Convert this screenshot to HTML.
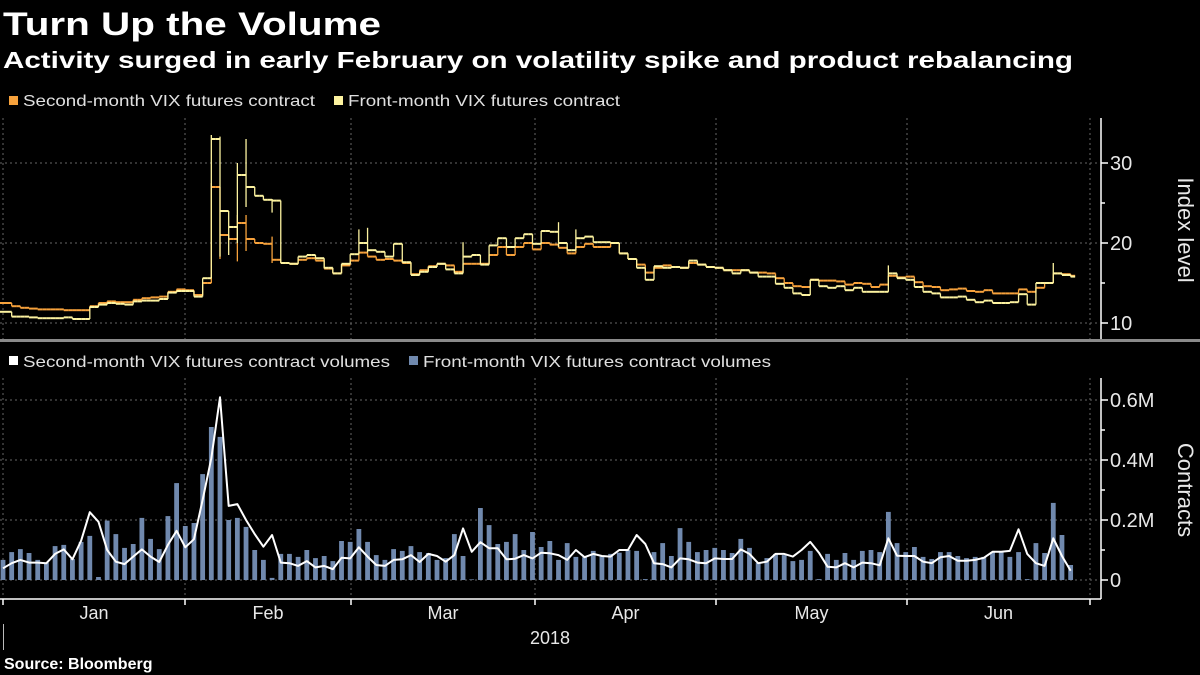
<!DOCTYPE html>
<html><head><meta charset="utf-8"><style>
html,body{margin:0;padding:0;background:#000;}
svg{display:block;font-family:"Liberation Sans",sans-serif;}
</style></head><body>
<svg id="chart" width="1200" height="675" viewBox="0 0 1200 675">
<rect x="0" y="0" width="1200" height="675" fill="#000"/>
<text x="3" y="35" font-size="32" font-weight="bold" fill="#fff" textLength="378" lengthAdjust="spacingAndGlyphs">Turn Up the Volume</text>
<text x="3" y="68" font-size="23" font-weight="bold" fill="#fff" textLength="1070" lengthAdjust="spacingAndGlyphs">Activity surged in early February on volatility spike and product rebalancing</text>
<g>
<rect x="9" y="96" width="9" height="9" fill="#f7a23c"/>
<text x="23" y="106" font-size="16" fill="#e0e0e0" textLength="292" lengthAdjust="spacingAndGlyphs">Second-month VIX futures contract</text>
<rect x="334" y="96" width="9" height="9" fill="#fdf3a0"/>
<text x="348" y="106" font-size="16" fill="#e0e0e0" textLength="272" lengthAdjust="spacingAndGlyphs">Front-month VIX futures contract</text>
</g>
<g>
<rect x="9" y="356" width="9" height="9" fill="#fff"/>
<text x="23" y="367" font-size="16" fill="#e0e0e0" textLength="367" lengthAdjust="spacingAndGlyphs">Second-month VIX futures contract volumes</text>
<rect x="409" y="356" width="9" height="9" fill="#7089ae"/>
<text x="423" y="367" font-size="16" fill="#e0e0e0" textLength="348" lengthAdjust="spacingAndGlyphs">Front-month VIX futures contract volumes</text>
</g>
<rect x="0" y="339" width="1200" height="3" fill="#8a8a8a"/>
<g id="grid"></g>
<g id="upper"></g>
<g id="lower"></g>
<g id="axes"></g>
<text transform="translate(1178,230) rotate(90)" text-anchor="middle" font-size="22" fill="#e8e8e8">Index level</text>
<text transform="translate(1178,490) rotate(90)" text-anchor="middle" font-size="22" fill="#e8e8e8">Contracts</text>
<text x="550" y="644" text-anchor="middle" font-size="18" fill="#e8e8e8">2018</text>
<line x1="3.5" y1="624" x2="3.5" y2="650" stroke="#bbb" stroke-width="1"/>
<text x="4" y="669" font-size="16" font-weight="bold" fill="#fff">Source: Bloomberg</text>
</svg>
<script>
const months = ["Jan","Feb","Mar","Apr","May","Jun"];
const frontClose = [11.4,10.8,10.8,10.7,10.6,10.6,10.6,10.7,10.5,10.5,12.0,12.3,12.5,12.4,12.3,12.7,12.8,12.8,13.0,13.8,14.0,
14.0,13.3,15.6,33.0,24.0,22.0,28.5,27.0,25.9,25.4,25.3,17.5,17.4,18.3,18.5,18.1,16.9,16.2,17.4,
18.6,20.0,19.1,18.9,18.3,19.9,17.6,16.0,16.4,17.0,17.4,16.7,16.2,18.3,18.5,17.3,19.7,20.6,19.5,20.6,21.1,19.9,
21.5,21.4,20.0,19.1,20.6,20.8,20.1,20.1,20.0,18.7,18.0,16.9,15.4,17.1,16.9,17.0,16.9,17.8,17.3,17.0,16.9,16.6,16.2,16.6,16.3,15.8,15.8,14.9,14.4,13.7,13.5,15.4,14.6,14.4,14.6,14.1,14.4,13.9,13.9,13.9,16.2,15.6,15.4,14.5,13.9,13.7,13.2,13.2,13.3,12.9,12.6,12.8,12.5,12.5,12.6,13.6,12.3,15.0,15.0,16.2,16.0,15.8];
const secondClose = [12.5,12.1,11.9,11.8,11.7,11.7,11.7,11.6,11.6,11.6,12.1,12.5,12.7,12.6,12.6,12.9,13.1,13.2,13.3,13.9,14.2,
14.1,13.5,15.0,27.0,21.0,20.5,22.5,20.5,20.0,19.9,17.9,17.5,17.4,17.9,18.1,17.8,16.8,16.2,17.2,
17.8,18.8,18.3,17.9,18.0,17.8,17.5,16.1,16.6,17.1,17.4,17.2,16.4,17.4,17.4,17.4,18.5,19.5,18.5,19.5,20.0,19.2,
20.0,19.8,19.4,18.7,19.5,19.9,19.5,19.5,20.0,18.7,18.0,17.3,16.3,16.9,17.2,17.0,16.9,17.5,17.3,17.0,16.9,16.6,16.6,16.6,16.3,16.3,16.2,15.6,15.0,14.6,14.5,15.4,15.3,15.3,15.2,14.8,15.0,14.9,14.5,14.8,15.9,15.7,15.8,15.1,14.6,14.5,14.1,14.2,14.3,14.0,13.9,14.1,13.7,13.7,13.7,14.2,13.9,14.4,15.0,16.2,16.1,15.9];
const frontSpikeIdx = [24,25,26,27,28,31,41,42,53,64,66,102,121];
const frontSpikeHigh = [33.5,33.3,24,30,33,25.5,21.7,21.9,20.1,22.6,21.7,17.2,17.5];
const frontSpikeLow = [15.6,18.3,18.5,20,24.5,23.8,18.6,18.8,17.8,19.5,19.4,15.2,15.0];
const secondSpikeIdx = [24,25,27,28,31];
const secondSpikeHigh = [27.5,23,23.5,23.5,20.8];
const secondSpikeLow = [15,18,17.7,19,17.5];
const frontVolK = [67,93,103,90,67,58,113,117,70,127,147,10,198,153,107,120,207,137,103,213,323,180,190,353,510,477,200,207,177,100,67,7,87,87,77,100,73,80,63,130,127,170,127,83,67,103,97,113,93,90,67,73,153,80,2,240,183,120,127,153,100,160,110,130,67,123,77,
76,97,78,87,91,100,97,3,93,123,80,173,127,93,100,107,100,90,137,107,57,73,87,83,63,67,97,3,87,67,90,67,97,100,93,227,123,93,110,77,70,93,93,80,73,77,77,93,93,77,93,3,123,90,257,150,50];
const secondVolK = [39,56,67,58,58,56,87,102,69,131,226,194,100,61,53,78,102,78,60,117,164,109,136,267,406,609,247,253,200,153,111,150,58,56,47,63,42,47,36,74,72,109,78,50,47,67,69,83,60,87,80,61,83,172,94,126,106,106,69,71,83,72,91,89,83,67,100,
76,87,80,78,100,100,150,120,56,53,42,72,69,58,56,72,70,70,102,87,56,61,87,87,78,100,127,91,44,42,56,42,58,56,49,139,81,80,80,61,56,76,80,64,64,67,74,94,94,97,169,87,56,47,139,80,31];
const priceTicks = [10,20,30];
const volTicks = [0,200,400,600];
const volTickLabels = ["0","0.2M","0.4M","0.6M"];

const NS = "http://www.w3.org/2000/svg";
const monthBoundsX = [3,185,351,535,716,907,1090];
function mk(tag, attrs, parent){const e=document.createElementNS(NS,tag);for(const k in attrs)e.setAttribute(k,attrs[k]);parent.appendChild(e);return e;}
const X = i => 3 + i*8.68;
const YP = v => 323 - (v-10)*8;
const YV = k => 580 - k*0.3;
const grid = document.getElementById('grid'), upper=document.getElementById('upper'), lower=document.getElementById('lower'), axes=document.getElementById('axes');

priceTicks.forEach(v=>{const l=mk('line',{x1:0,x2:1100,y1:YP(v),y2:YP(v),stroke:'#666','stroke-dasharray':'2,3','stroke-width':1},grid);

});
volTicks.forEach(v=>{const l=mk('line',{x1:0,x2:1100,y1:YV(v),y2:YV(v),stroke:'#666','stroke-dasharray':'2,3','stroke-width':1},grid);

});
monthBoundsX.forEach((x,j)=>{
const a=mk('line',{x1:x,x2:x,y1:118,y2:339,stroke:'#666','stroke-dasharray':'2,3'},grid);


const b=mk('line',{x1:x,x2:x,y1:378,y2:598,stroke:'#666','stroke-dasharray':'2,3'},grid);


const t=mk('line',{x1:x,x2:x,y1:599,y2:605,stroke:'#fff','stroke-width':1.5},axes);


if(j<months.length){const ex=monthBoundsX[j+1];
const lb=mk('text',{x:(x+ex)/2,y:619,'text-anchor':'middle','font-size':18,fill:'#e8e8e8'},axes);lb.textContent=months[j];

}
});

function drawPrice(close, spIdx, spHi, spLo, color, name){
  const g=mk('g',{},upper);
  
  
  close.forEach((c,i)=>{
    const prev = i>0?close[i-1]:c; const x=X(i);
    let hi=Math.max(prev,c), lo=Math.min(prev,c);
    const s=spIdx.indexOf(i); if(s>=0){hi=Math.max(hi,spHi[s]);lo=Math.min(lo,spLo[s]);}
    const v=mk('line',{x1:x,x2:x,y1:YP(hi),y2:YP(lo),stroke:color,'stroke-width':1.3},g);
    
    
    const h=mk('line',{x1:x,x2:x+4.5,y1:YP(c),y2:YP(c),stroke:color,'stroke-width':2},g);
    
    
    const o=mk('line',{x1:x-4.2,x2:x,y1:YP(prev),y2:YP(prev),stroke:color,'stroke-width':2},g);
    
    
  });
}
drawPrice(secondClose, secondSpikeIdx, secondSpikeHigh, secondSpikeLow, '#f7a23c', 'second-month-price');
drawPrice(frontClose, frontSpikeIdx, frontSpikeHigh, frontSpikeLow, '#fdf3a0', 'front-month-price');

frontVolK.forEach((k,i)=>{const r=mk('rect',{x:X(i)-2.4,y:YV(k),width:4.8,height:Math.max(0.5,580-YV(k)),fill:'#7089ae'},lower);

});
const pl=mk('polyline',{points:secondVolK.map((k,i)=>X(i)+','+YV(k)).join(' '),fill:'none',stroke:'#fff','stroke-width':2,'stroke-linejoin':'round'},lower);



function ax(attrs,name){const l=mk('line',Object.assign({stroke:'#fff','stroke-width':1.5},attrs),axes);

}
ax({x1:1101,x2:1101,y1:118,y2:339},'price-y-axis');
ax({x1:1101,x2:1101,y1:378,y2:599},'volume-y-axis');
ax({x1:0,x2:1101,y1:599,y2:599},'x-axis');
[15,25].forEach(v=>ax({x1:1101,x2:1105,y1:YP(v),y2:YP(v)},'price-minor-tick'));
[100,300,500].forEach(v=>ax({x1:1101,x2:1105,y1:YV(v),y2:YV(v)},'volume-minor-tick'));
priceTicks.forEach(v=>{ax({x1:1101,x2:1108,y1:YP(v),y2:YP(v)},'price-tick');
const t=mk('text',{x:1110,y:YP(v)+7,'font-size':20,fill:'#e8e8e8'},axes);t.textContent=v;

});
volTicks.forEach((v,j)=>{ax({x1:1101,x2:1108,y1:YV(v),y2:YV(v)},'volume-tick');
const t=mk('text',{x:1110,y:YV(v)+7,'font-size':20,fill:'#e8e8e8'},axes);t.textContent=volTickLabels[j];

});
</script>
</body></html>
